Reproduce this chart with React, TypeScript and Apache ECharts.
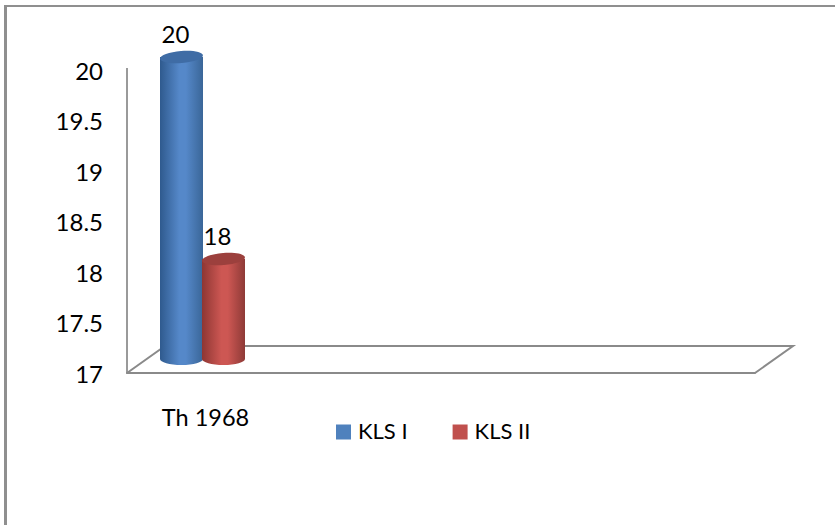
import React, { useEffect, useRef } from "react";
import * as echarts from "echarts";

const categories = ["Th 1968", "", "", ""];
const yTicks = { min: 17, max: 20, interval: 0.5 };
const klsOne = [20];
const klsTwo = [18];
const FONT = "Lato, Carlito, sans-serif";

const gradient = (edgeL: string, mid: string, edgeR: string) => ({
  type: "linear", x: 0, y: 0, x2: 1, y2: 0,
  colorStops: [
    { offset: 0, color: edgeL },
    { offset: 0.45, color: mid },
    { offset: 0.6, color: mid },
    { offset: 1, color: edgeR },
  ],
});

const cylinder = (xShift: number, fill: any, topFill: string) => (params: any, api: any) => {
  const base = api.coord([api.value(0), yTicks.min]);
  const top = api.coord([api.value(0), api.value(1)]);
  const cx = base[0] + xShift;
  const lift = 14;
  const by = base[1] - lift;
  const ty = top[1] - 13;
  const rx = 21.5, ry = 6;
  return {
    type: "group",
    children: [
      { type: "ellipse", shape: { cx, cy: by, rx, ry }, style: { fill } },
      { type: "rect", shape: { x: cx - rx, y: ty, width: rx * 2, height: by - ty }, style: { fill } },
      { type: "ellipse", x: cx, y: ty, rotation: 0.08, shape: { cx: 0, cy: 0, rx, ry }, style: { fill: topFill } },
      {
        type: "text",
        style: {
          text: String(api.value(1)), x: cx - 6, y: ty - 12, align: "center", verticalAlign: "bottom",
          fontFamily: FONT, fontSize: 24, fill: "#000",
        },
      },
    ],
  };
};

const floor = (params: any, api: any) => {
  const r = params.coordSys;
  const left = r.x, right = r.x + r.width, y = r.y + r.height;
  const style = { stroke: "#8a8a8a", lineWidth: 2, fill: "none" };
  return {
    type: "group",
    children: [
      { type: "polyline", shape: { points: [[left, y], [left + 38, y - 27], [right + 38, y - 27], [right, y]] }, style },
    ],
  };
};

export default function App() {
  const ref = useRef<HTMLDivElement>(null);
  useEffect(() => {
    document.body.style.margin = "0";
    const chart = echarts.init(ref.current!, null, { renderer: "svg" });
    chart.setOption({
      animation: false,
      backgroundColor: "#fff",
      grid: { left: 127, right: 80, top: 70, bottom: 152 },
      graphic: [
        { type: "line", silent: true, shape: { x1: 5.5, y1: 5, x2: 5.5, y2: 525 }, style: { stroke: "#8f8f8f", lineWidth: 3 } },
        { type: "line", silent: true, shape: { x1: 4, y1: 6, x2: 835, y2: 6 }, style: { stroke: "#8f8f8f", lineWidth: 2 } },
        { type: "line", silent: true, shape: { x1: 127, y1: 68, x2: 127, y2: 70 }, style: { stroke: "#9a9a9a", lineWidth: 2 } },
      ],
      legend: {
        left: 331, top: 414, itemWidth: 15, itemHeight: 15, itemGap: 45,
        icon: "rect",
        formatter: "{a|{name}}",
        textStyle: {
          fontFamily: FONT, fontSize: 22, color: "#000",
          rich: { a: { fontFamily: FONT, fontSize: 22, color: "#000", padding: [0, 0, 4, 2] } },
        },
        data: ["KLS I", "KLS II"],
      },
      xAxis: {
        type: "category", data: categories,
        axisLine: { show: true, lineStyle: { color: "#8a8a8a", width: 2 } },
        axisTick: { show: false },
        axisLabel: { interval: 0, margin: 32, fontFamily: FONT, fontSize: 23.5, color: "#000" },
      },
      yAxis: {
        type: "value", ...yTicks,
        axisLine: { show: true, lineStyle: { color: "#9a9a9a", width: 2 } },
        axisTick: { show: false },
        splitLine: { show: false },
        axisLabel: { margin: 24, fontFamily: FONT, fontSize: 24, color: "#000" },
      },
      series: [
        { type: "custom", name: "floor", silent: true, z: 1, data: [[0, yTicks.min]], renderItem: floor },
        {
          type: "custom", name: "KLS I", z: 2, itemStyle: { color: "#4f81bd" },
          data: klsOne.map((v, i) => [i, v]),
          renderItem: cylinder(-24, gradient("#2f5a8e", "#5588c9", "#3a6698"), "#3f6ca5"),
        },
        {
          type: "custom", name: "KLS II", z: 3, itemStyle: { color: "#c0504d" },
          data: klsTwo.map((v, i) => [i, v]),
          renderItem: cylinder(18, gradient("#8e3633", "#cd5753", "#8e3a37"), "#9c403d"),
        },
      ],
    });
    return () => chart.dispose();
  }, []);
  return <div ref={ref} style={{ width: 835, height: 525 }} />;
}
